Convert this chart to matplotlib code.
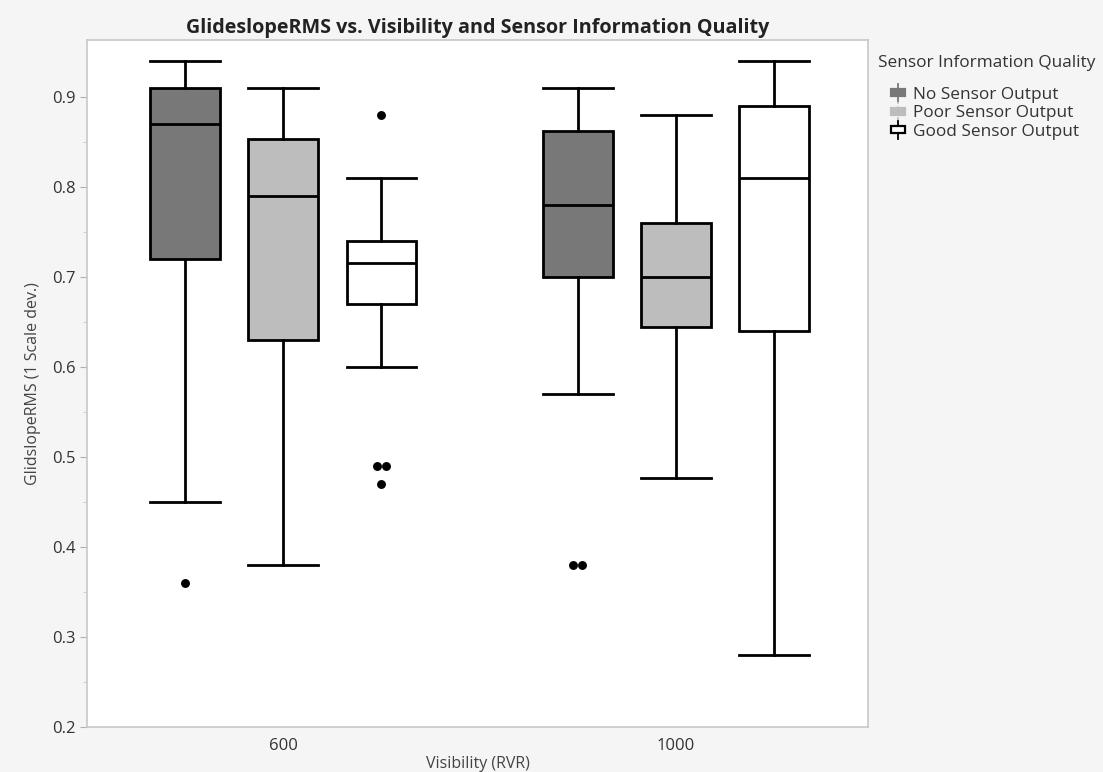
import numpy as np
import matplotlib.pyplot as plt
from matplotlib.patches import Rectangle
from matplotlib.lines import Line2D
from matplotlib.legend_handler import HandlerBase

plt.rcParams['font.family'] = ['Open Sans', 'DejaVu Sans']

# data: five-number summaries per visibility level and sensor quality
visibility = ['600', '1000']
quality = ['No Sensor Output', 'Poor Sensor Output', 'Good Sensor Output']
box_colors = ['#787878', '#bdbdbd', '#ffffff']

whis_lo = [[0.45, 0.38, 0.60], [0.57, 0.477, 0.28]]
q1      = [[0.72, 0.63, 0.67], [0.70, 0.645, 0.64]]
med     = [[0.87, 0.79, 0.716], [0.78, 0.70, 0.81]]
q3      = [[0.91, 0.853, 0.74], [0.862, 0.76, 0.89]]
whis_hi = [[0.94, 0.91, 0.81], [0.91, 0.88, 0.94]]
outliers = [[[0.36], [], [0.88, 0.49, 0.49, 0.47]],
            [[0.38, 0.38], [], []]]

offsets = [-0.25, 0.0, 0.25]
box_w = 0.178
lw = 2.0

fig = plt.figure(figsize=(11.03, 7.72), dpi=100, facecolor='#f5f5f5')
ax = fig.add_axes([0.079, 0.058, 0.708, 0.890])
ax.set_facecolor('white')

for g in range(len(visibility)):
    for k in range(len(quality)):
        st = dict(whislo=whis_lo[g][k], q1=q1[g][k], med=med[g][k],
                  q3=q3[g][k], whishi=whis_hi[g][k], fliers=[])
        ax.bxp([st], positions=[g + offsets[k]], widths=box_w, patch_artist=True,
               showfliers=False, capwidths=box_w,
               boxprops=dict(facecolor=box_colors[k], edgecolor='black', linewidth=lw),
               medianprops=dict(color='black', linewidth=lw),
               whiskerprops=dict(color='black', linewidth=lw),
               capprops=dict(color='black', linewidth=lw))
        # repeated outlier values sit side by side
        vals = outliers[g][k]
        for v in set(vals):
            n = vals.count(v)
            xs = g + offsets[k] + (np.arange(n) - (n - 1) / 2) * 0.023
            ax.plot(xs, [v] * n, 'o', color='black', markersize=5.4, zorder=5)

ax.set_xlim(-0.5, 1.49)
ax.set_ylim(0.2, 0.963)
ax.set_xticks([0, 1])
ax.set_xticklabels(visibility)
ax.set_yticks(np.arange(0.2, 0.95, 0.1))
ax.set_yticklabels([f'{v:.1f}' for v in np.arange(0.2, 0.95, 0.1)])
ax.set_yticks(np.arange(0.25, 0.95, 0.1), minor=True)
ax.tick_params(axis='y', which='major', length=5, color='#b0b0b0', labelsize=12, labelcolor='#333333')
ax.tick_params(axis='y', which='minor', length=3, color='#c8c8c8')
ax.tick_params(axis='x', length=0, labelsize=12, labelcolor='#333333', pad=8)
for s in ax.spines.values():
    s.set_color('#c8c8c8')
    s.set_linewidth(1.2)

ax.set_title('GlideslopeRMS vs. Visibility and Sensor Information Quality',
             fontsize=14.2, fontweight='bold', color='#222222', pad=5)
ax.set_xlabel('Visibility (RVR)', fontsize=11.5, color='#444444', labelpad=1)
ax.set_ylabel('GlidslopeRMS (1 Scale dev.)', fontsize=11.5, color='#444444', labelpad=8)


class MiniBox(HandlerBase):
    def __init__(self, fc):
        super().__init__()
        self.fc = fc

    def create_artists(self, legend, orig, xd, yd, w, h, fs, trans):
        cx = xd + w / 2
        edge = 'black' if self.fc == '#ffffff' else self.fc
        stem = Line2D([cx, cx], [yd - 2, yd + h + 2], color=edge, lw=1.3,
                      ls='-' if self.fc != '#bdbdbd' else (0, (1.5, 1.5)), transform=trans)
        box = Rectangle((cx - 5, yd + h * 0.22), 10, h * 0.56, facecolor=self.fc,
                        edgecolor=edge, lw=1.6, transform=trans)
        return [stem, box]


fig.text(0.796, 0.919, 'Sensor Information Quality', fontsize=12.4, color='#333333',
         ha='left', va='center')
handles = [Rectangle((0, 0), 1, 1) for _ in quality]
leg = fig.legend(handles, quality, loc='upper left', bbox_to_anchor=(0.794, 0.908),
                 frameon=False, fontsize=12.4, handlelength=0.8, handletextpad=0.45,
                 labelspacing=0.15,
                 handler_map={h: MiniBox(c) for h, c in zip(handles, box_colors)})
for t in leg.get_texts():
    t.set_color('#333333')

fig.savefig('out.png', dpi=100, facecolor=fig.get_facecolor())
